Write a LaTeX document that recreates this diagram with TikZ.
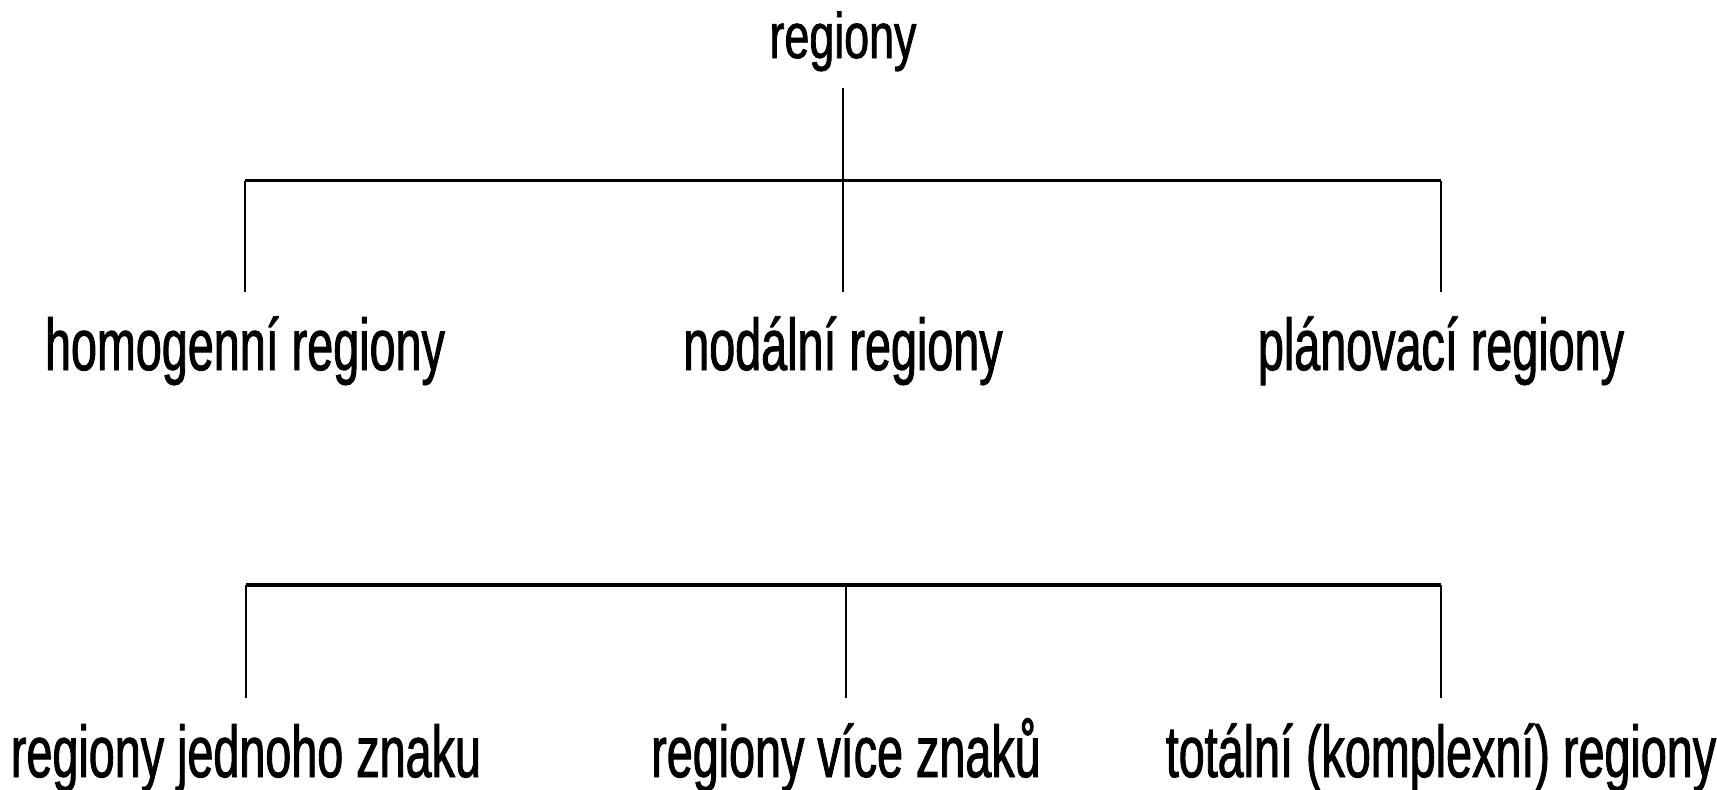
\documentclass[tikz,border=0pt]{standalone}
\usepackage{fontspec}
\setmainfont{Liberation Sans}[FakeStretch=0.64,FakeBold=1.2]
\newfontfamily\topfont{Liberation Sans}[FakeStretch=0.70,FakeBold=1.2]
\begin{document}
\begin{tikzpicture}[x=1pt,y=-1pt,
  lbl/.style={inner sep=0pt, anchor=base, text height=52pt, text depth=16pt,
    font=\fontsize{73}{80}\selectfont},
  rootlbl/.style={inner sep=0pt, anchor=base, text height=46pt, text depth=14pt,
    font=\topfont\fontsize{64}{70}\selectfont, outer ysep=16pt},
  vline/.style={draw=black, line width=2pt},
  hline/.style={draw=black, line width=3.6pt}]
\useasboundingbox[fill=white] (0,0) rectangle (1717,790);

\node[rootlbl] (root) at (843,58) {regiony};

\node[lbl, outer ysep=26pt] (homog) at (245,370) {homogenní regiony};
\node[lbl, outer ysep=26pt] (nodal) at (843,370) {nodální regiony};
\node[lbl, outer ysep=26pt] (plan) at (1441,370) {plánovací regiony};

\node[lbl, text depth=8pt, outer ysep=0pt] (jedn) at (246,777) {regiony jednoho znaku};
\node[lbl, text depth=8pt, outer ysep=0pt] (vice) at (846,777) {regiony více znaků};
\node[lbl, text depth=8pt, outer ysep=0pt] (total) at (1441,777) {totální (komplexní) regiony};

\coordinate (bar1) at (0,180.5);
\coordinate (bar2) at (0,585);

% first level
\draw[hline] (homog.north |- bar1) -- (plan.north |- bar1);
\draw[vline] (root.south) -- (nodal.north);
\draw[vline] (homog.north |- bar1) -- (homog.north);
\draw[vline] (plan.north |- bar1) -- (plan.north);

% second level
\draw[hline] (jedn.north |- bar2) -- (total.north |- bar2);
\draw[vline, shorten >=27pt] (jedn.north |- bar2) -- (jedn.north);
\draw[vline, shorten >=27pt] (vice.north |- bar2) -- (vice.north);
\draw[vline, shorten >=27pt] (total.north |- bar2) -- (total.north);
\end{tikzpicture}
\end{document}
